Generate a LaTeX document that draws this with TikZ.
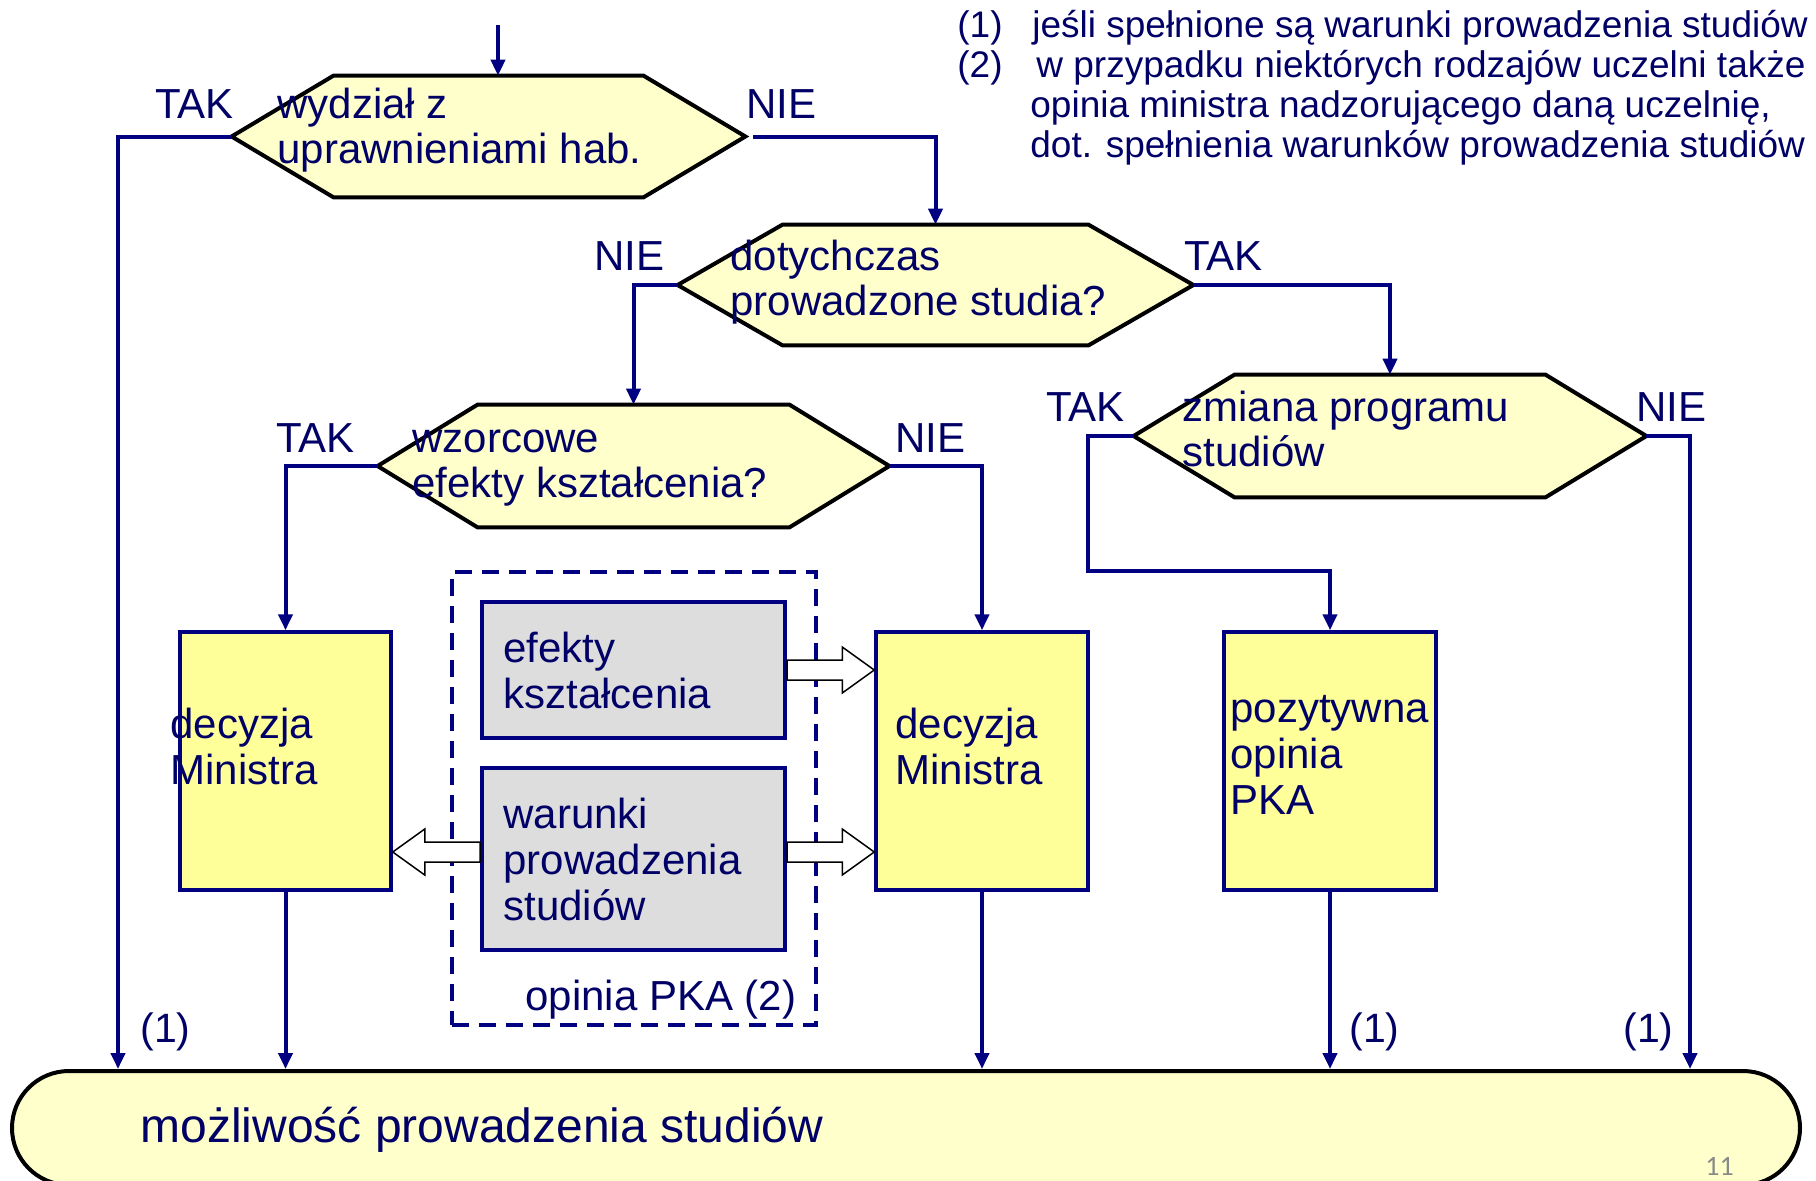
\documentclass[tikz,border=0pt]{standalone}
\usepackage{fontspec}
\setmainfont{Liberation Sans}
\newfontfamily\pagenumfont{Carlito}
\usetikzlibrary{arrows.meta,calc}

\definecolor{navyline}{RGB}{0,0,128}
\definecolor{navytext}{RGB}{0,0,102}
\definecolor{hexfill}{RGB}{255,255,204}
\definecolor{boxyellow}{RGB}{255,255,153}
\definecolor{boxgray}{RGB}{221,221,221}
\definecolor{pagegray}{RGB}{137,137,137}

% hexagonal decision outline around an (invisible) frame node
% #1 = frame node name, #2 = horizontal length of the pointed ends
\newcommand{\hexoutline}[2]{%
  \path[hexline] (#1.west) -- ([xshift=#2]#1.north west) -- ([xshift=-#2]#1.north east)
    -- (#1.east) -- ([xshift=-#2]#1.south east) -- ([xshift=#2]#1.south west) -- cycle;}

% hollow block arrow from point #1 to tip #2 (horizontal)
\newcommand{\blockarrow}[3]{% #1 start, #2 tip, #3 = +1 right / -1 left
  \path[blockarr] ($(#1)+(0,10)$) -- ($(#2)+(-32*#3,10)$) -- ($(#2)+(-32*#3,23)$) -- (#2)
    -- ($(#2)+(-32*#3,-23)$) -- ($(#2)+(-32*#3,-10)$) -- ($(#1)+(0,-10)$) -- cycle;}

\tikzset{
  conn/.style={draw=navyline, line width=2pt, -{Triangle[length=8pt,width=7pt]}},
  hexline/.style={draw=black, line width=2pt, fill=hexfill, line join=miter},
  frame/.style={rectangle, draw=none, inner sep=0pt},
  yellowbox/.style={rectangle, draw=navyline, line width=1.75pt, fill=boxyellow, inner sep=0pt},
  graybox/.style={rectangle, draw=navyline, line width=2pt, fill=boxgray, inner sep=0pt},
  pkabox/.style={rectangle, draw=navyline, line width=2pt, dash pattern=on 8.5pt off 5pt, inner sep=0pt},
  terminal/.style={rectangle, rounded corners=28.5pt, draw=black, line width=2pt, fill=hexfill, inner sep=0pt},
  blockarr/.style={draw=black, line width=0.75pt, fill=white, line join=miter},
  % multi-line texts are placed by the baseline of their last line
  txt/.style={anchor=base west, inner sep=0pt, text=navytext, align=left,
    font=\fontsize{21}{21}\selectfont},
  hextxt/.style={txt, font=\fontsize{21}{22.5}\selectfont},
  boxtxt/.style={txt, font=\fontsize{21}{23}\selectfont},
  note/.style={txt, font=\fontsize{18.5}{20}\selectfont},
}

\begin{document}
\begin{tikzpicture}[x=0.5pt,y=-0.5pt]
\useasboundingbox (0,0) rectangle (1816,1180);
\clip (0,0) rectangle (1816,1180);

% decision frames
\node[frame, minimum width=256.5pt, minimum height=60.5pt] (h1) at (488.5,136.5) {};
\node[frame, minimum width=257.5pt, minimum height=60pt]   (h2) at (935.5,285) {};
\node[frame, minimum width=255.5pt, minimum height=61pt]   (h3) at (633.5,466) {};
\node[frame, minimum width=256pt,   minimum height=61pt]   (h4) at (1390,436) {};
\hexoutline{h1}{51pt}
\hexoutline{h2}{52.5pt}
\hexoutline{h3}{50pt}
\hexoutline{h4}{50.5pt}

% boxes
\node[yellowbox, minimum width=105.5pt, minimum height=129pt] (a) at (285.5,761) {};
\node[yellowbox, minimum width=106pt,   minimum height=129pt] (b) at (982,761) {};
\node[yellowbox, minimum width=106pt,   minimum height=129pt] (c) at (1330,761) {};
\node[pkabox, minimum width=182pt, minimum height=226.5pt] (pka) at (634,798.5) {};
\node[graybox, minimum width=151.5pt, minimum height=68pt] (g1) at (633.5,670) {};
\node[graybox, minimum width=151.5pt, minimum height=91pt] (g2) at (633.5,859) {};

% final terminal
\node[terminal, minimum width=894pt, minimum height=57pt] (term) at (906,1128) {};

% texts inside shapes
\node[hextxt] (h1t) at (277,163) {wydział z\\uprawnieniami hab.};
\node[hextxt] (h2t) at (730,315) {dotychczas\\prowadzone studia?};
\node[hextxt] (h3t) at (412,497) {wzorcowe\\efekty kształcenia?};
\node[hextxt] (h4t) at (1182,466) {zmiana programu\\studiów};
\node[boxtxt] (at) at (170,784) {decyzja\\Ministra};
\node[boxtxt] (bt) at (895,784) {decyzja\\Ministra};
\node[boxtxt] (ct) at (1230,814) {pozytywna\\opinia\\PKA};
\node[boxtxt] (g1t) at (503,708) {efekty\\kształcenia};
\node[boxtxt] (g2t) at (503,920) {warunki\\prowadzenia\\studiów};
\node[txt] (pkat) at (525,1010) {opinia PKA (2)};
\node[txt, font=\fontsize{24}{24}\selectfont] (termt) at (140,1142) {możliwość prowadzenia studiów};
\node[anchor=base west, inner sep=0pt, text=pagegray, font=\pagenumfont\fontsize{14}{14}\selectfont] (pnum) at (1705,1175) {11};

% branch labels
\node[txt] (tak1) at (155,118) {TAK};
\node[txt] (nie1) at (746,118) {NIE};
\node[txt] (nie2) at (594,270) {NIE};
\node[txt] (tak2) at (1184,270) {TAK};
\node[txt] (tak3) at (276,452) {TAK};
\node[txt] (nie3) at (895,452) {NIE};
\node[txt] (tak4) at (1046,421) {TAK};
\node[txt] (nie4) at (1636,421) {NIE};
\node[txt, font=\fontsize{20.5}{20.5}\selectfont] (r1) at (140,1042) {(1)};
\node[txt, font=\fontsize{20.5}{20.5}\selectfont] (r2) at (1349,1042) {(1)};
\node[txt, font=\fontsize{20.5}{20.5}\selectfont] (r3) at (1623,1042) {(1)};

% notes
\node[note] (n1) at (957,37) {(1)};
\node[note] (n1t) at (1032,37) {jeśli spełnione są warunki prowadzenia studiów};
\node[note] (n2) at (957,77) {(2)};
\node[note] (n2t) at (1030,157) {\hspace{3pt}w przypadku niektórych rodzajów uczelni także\\opinia ministra nadzorującego daną uczelnię,\\dot. spełnienia warunków prowadzenia studiów};

% flow connectors
\coordinate (start) at (498,25);
\draw[conn] (start) -- (start |- h1.north);
\draw[conn] (h1.west) -| ($(term.north west)+(108,0)$);
\draw[conn] ([xshift=4pt]h1.east) -| (h2.north);
\draw[conn] (h2.west) -| (h3.north);
\draw[conn] (h2.east) -| (h4.north);
\draw[conn] (h3.west) -| (a.north);
\draw[conn] (h3.east) -| (b.north);
\draw[conn] (h4.west) -- ++(-46,0) -- ++(0,135) -| (c.north);
\draw[conn] (h4.east) -| ($(term.north west)+(1680,0)$);
\draw[conn] (a.south) -- (a.south |- term.north);
\draw[conn] (b.south) -- (b.south |- term.north);
\draw[conn] (c.south) -- (c.south |- term.north);

% hollow arrows from the PKA opinion parts
\coordinate (g1r) at (g1.east);
\coordinate (g1tip) at (g1.east -| b.west);
\coordinate (g2r) at ($(g2.east)+(0,-7)$);
\coordinate (g2tip) at (g2r -| b.west);
\coordinate (g2l) at ($(g2.west)+(0,-7)$);
\coordinate (g2ltip) at (g2l -| a.east);
\blockarrow{g1r}{g1tip}{1}
\blockarrow{g2r}{g2tip}{1}
\blockarrow{g2l}{g2ltip}{-1}
\end{tikzpicture}
\end{document}
